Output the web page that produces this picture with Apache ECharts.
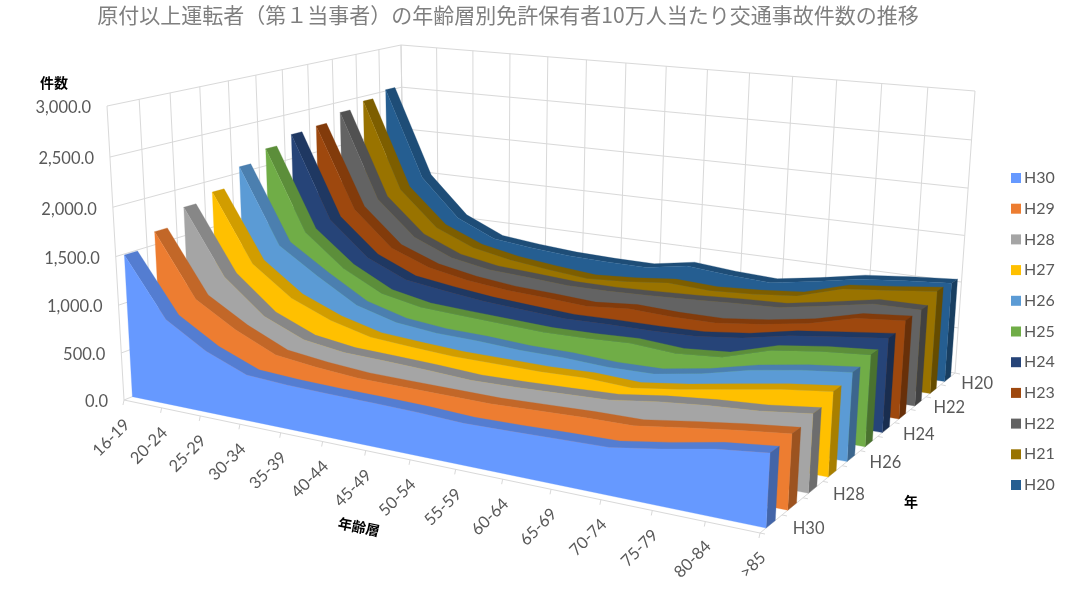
<!DOCTYPE html>
<html><head><meta charset="utf-8">
<style>html,body{margin:0;padding:0;background:#fff}#c{width:1080px;height:594px}</style>
<script src="https://cdn.jsdelivr.net/npm/echarts@6/dist/echarts.min.js"></script>
</head><body><div id="c"></div>
<script>
const ageGroups = ['16-19','20-24','25-29','30-34','35-39','40-44','45-49','50-54','55-59','60-64','65-69','70-74','75-79','80-84','>85'];
const yearTicks = ['H30','H28','H26','H24','H22','H20'];
const valueTicks = [0,500,1000,1500,2000,2500,3000];
const H30 = [1490,890,637,470,447,437,433,425,405,415,430,442,518,607,662];
const H29 = [1635,990,742,553,502,470,465,462,459,477,495,502,572,636,690];
const H28 = [1800,1120,768,592,533,520,504,480,491,509,530,596,643,675,734];
const H27 = [1875,1160,852,681,574,544,521,520,518,534,515,581,664,745,805];
const H26 = [2065,1260,984,733,615,573,563,540,539,518,527,609,723,801,858];
const H25 = [2185,1316,972,753,670,650,631,613,622,644,614,652,795,860,901];
const H24 = [2270,1360,987,803,745,695,667,642,653,657,671,728,825,887,945];
const H23 = [2295,1390,1000,838,758,711,692,666,708,692,697,754,835,960,1005];
const H22 = [2380,1420,1030,851,775,751,723,726,745,767,797,818,904,995,1000];
const H21 = [2445,1450,1050,870,785,736,696,727,777,757,786,833,975,1026,1084];
const H20 = [2515,1510,1075,880,834,800,788,787,868,828,807,885,977,1025,1063];

const yearNames = ['H30','H29','H28','H27','H26','H25','H24','H23','H22','H21','H20'];
const yearValues = [H30,H29,H28,H27,H26,H25,H24,H23,H22,H21,H20];
const frontColors = ['#6699FF','#ED7D31','#A5A5A5','#FFC000','#5B9BD5','#70AD47','#264478','#9E480E','#636363','#997300','#255E91'];

const valueMax = 3000, lastCat = ageGroups.length - 1, slots = yearNames.length;
const GAP = 0.27, DEPTH = 0.42, TOPSHADE = 0.82, SIDESHADE = 0.66, PERSP = 0.05;

// camera: the corners of the 3D box on the page
const A=[124,400],B=[760,533],C=[955,373],D=[405,288],A2=[107,106],C2=[975,91],D2=[401,45];
function meet(p,q,r,s){const a=q[0]-p[0],b=q[1]-p[1],c=s[0]-r[0],d=s[1]-r[1],t=((r[0]-p[0])*d-(r[1]-p[1])*c)/(a*d-b*c);return [p[0]+a*t,p[1]+b*t];}
const V1=meet(A,B,D,C),V2=meet(A,D,B,C),B2=meet(A2,V1,C2,V2);
function homography(p0,p1,p2,p3){
  const dx1=p1[0]-p2[0],dx2=p3[0]-p2[0],sx=p0[0]-p1[0]+p2[0]-p3[0],dy1=p1[1]-p2[1],dy2=p3[1]-p2[1],sy=p0[1]-p1[1]+p2[1]-p3[1];
  const den=dx1*dy2-dx2*dy1,g=(sx*dy2-dx2*sy)/den,h=(dx1*sy-sx*dy1)/den;
  const a=p1[0]-p0[0]+g*p1[0],b=p3[0]-p0[0]+h*p3[0],d=p1[1]-p0[1]+g*p1[1],e=p3[1]-p0[1]+h*p3[1];
  return (u,v)=>{const w=g*u+h*v+1;return [(a*u+b*v+p0[0])/w,(d*u+e*v+p0[1])/w];};
}
const floorMap=homography(A,B,C,D), ceilMap=homography(A2,B2,C2,D2);
function proj(cat,val,slot){
  const u=cat/lastCat,v=slot/slots,t0=val/valueMax,t=t0/(1+PERSP-PERSP*t0);
  const f=floorMap(u,v),c=ceilMap(u,v);
  return [f[0]+(c[0]-f[0])*t,f[1]+(c[1]-f[1])*t];
}
function shade(hex,k){const n=parseInt(hex.slice(1),16);const ch=s=>Math.round(((n>>s)&255)*k);return `rgb(${ch(16)},${ch(8)},${ch(0)})`;}

const LINE='#D9D9D9';
function line(p,q){return {type:'line',shape:{x1:p[0],y1:p[1],x2:q[0],y2:q[1]},style:{stroke:LINE,lineWidth:1},silent:true};}
function label(text,x,y,opts){return Object.assign({type:'text',x,y,style:Object.assign({text,fill:'#595959',font:'16.5px Lato, "Noto Sans"',align:'center',verticalAlign:'middle'},opts&&opts.style||{}),rotation:opts&&opts.rotation||0,silent:true});}

function renderAxes(params,api){
  const els=[];
  valueTicks.forEach(v=>{
    els.push(line(proj(0,v,0),proj(0,v,slots)));
    els.push(line(proj(0,v,slots),proj(lastCat,v,slots)));
    const p=proj(0,v,0);
    els.push(label(v.toLocaleString('en-US',{minimumFractionDigits:1}),p[0]-16,p[1]+2,{style:{align:'right'}}));
  });
  for(let s=0;s<=slots;s++) els.push(line(proj(0,0,s),proj(0,valueMax,s)));
  ageGroups.forEach((g,i)=>{
    els.push(line(proj(i,0,slots),proj(i,valueMax,slots)));
    const p=proj(i,0,0);
    els.push(line(p,[p[0]-1,p[1]+5]));
    els.push(label(g,p[0]+3,p[1]+22,{rotation:Math.PI/4,style:{align:'right'}}));
  });
  els.push(line(proj(0,0,0),proj(lastCat,0,0)));
  els.push(line(proj(lastCat,0,0),proj(lastCat,0,slots)));
  for(let s=0;s<=slots;s++){const p=proj(lastCat,0,s);els.push(line(p,[p[0]+5,p[1]+1]));}
  yearTicks.forEach(y=>{
    const s=yearNames.indexOf(y)+0.5,p=proj(lastCat,0,s);
    els.push(label(y,p[0]+22-9*s/slots,p[1]+5,{style:{align:'left'}}));
  });
  const bold={fill:'#000',font:'bold 14px "Noto Sans CJK JP"'};
  els.push(label('件数',54,83,{style:bold}));
  els.push(label('年齢層',359,527,{rotation:-0.2,style:bold}));
  els.push(label('年',911,502,{style:bold}));
  return {type:'group',children:els};
}
function renderRibbon(idx){
  return function(params,api){
    if(params.dataIndex!==0) return null;
    const vals=yearValues[idx],z0=idx+GAP,z1=z0+DEPTH,col=frontColors[idx];
    const frontTop=vals.map((v,i)=>proj(i,v,z0));
    const backTop=vals.map((v,i)=>proj(i,v,z1));
    const front=frontTop.concat([proj(lastCat,0,z0),proj(0,0,z0)]);
    const top=frontTop.concat(backTop.slice().reverse());
    const side=[proj(lastCat,0,z0),proj(lastCat,vals[lastCat],z0),proj(lastCat,vals[lastCat],z1),proj(lastCat,0,z1)];
    const poly=(points,fill)=>({type:'polygon',shape:{points},style:{fill,stroke:fill,lineWidth:0.3}});
    return {type:'group',children:[poly(top,shade(col,TOPSHADE)),poly(side,shade(col,SIDESHADE)),poly(front,col)]};
  };
}
const series=[{name:'axes',type:'custom',coordinateSystem:'none',data:[0],renderItem:renderAxes,silent:true,z:1}];
for(let i=slots-1;i>=0;i--){
  series.push({name:yearNames[i],type:'custom',coordinateSystem:'none',data:yearValues[i],renderItem:renderRibbon(i),itemStyle:{color:frontColors[i]},silent:true,z:2,animation:false});
}
const chart=echarts.init(document.getElementById('c'),null,{renderer:'canvas'});
chart.setOption({
  animation:false,
  backgroundColor:'#fff',
  title:{text:'原付以上運転者（第１当事者）の年齢層別免許保有者10万人当たり交通事故件数の推移',left:503,top:0,textAlign:'center',textStyle:{fontFamily:'"Noto Sans CJK JP"',fontWeight:'normal',fontSize:21,color:'#7F7F7F'}},
  legend:{data:yearNames,orient:'vertical',left:1006,top:165,itemWidth:10,itemHeight:10,itemGap:14.7,icon:'rect',textStyle:{fontFamily:'Lato',fontSize:16,color:'#595959',padding:[0,0,0,-2]},selectedMode:false},
  series
});
</script></body></html>
